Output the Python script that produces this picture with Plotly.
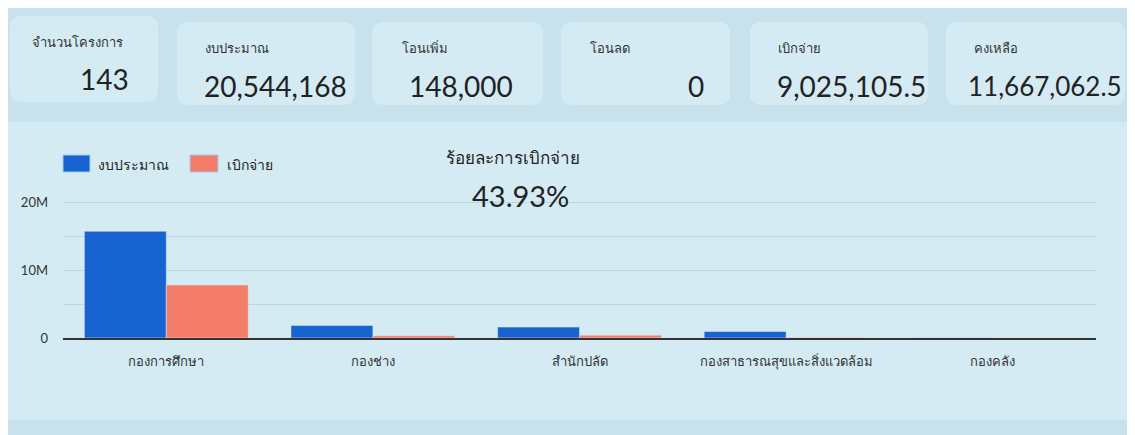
import plotly.graph_objects as go

OFF = 8  # browser body margin
W, H = 1135 - OFF, 435 - OFF
# plot area in reference pixel coordinates
PL, PR, PT, PB = 63, 1096, 196, 338
ML, MR, MT, MB = PL - OFF, W - (PR - OFF), PT - OFF, H - (PB - OFF)

categories = ["กองการศึกษา", "กองช่าง", "สำนักปลัด", "กองสาธารณสุขและสิ่งแวดล้อม", "กองคลัง"]
budget = [15700000, 1850000, 1600000, 950000, 40000]
spent = [7800000, 330000, 420000, 60000, 20000]

kpi_labels = ["จำนวนโครงการ", "งบประมาณ", "โอนเพิ่ม", "โอนลด", "เบิกจ่าย", "คงเหลือ"]
kpi_values = ["143", "20,544,168", "148,000", "0", "9,025,105.5", "11,667,062.5"]

series_names = ["งบประมาณ", "เบิกจ่าย"]
pct_title = "ร้อยละการเบิกจ่าย"
pct_value = "43.93%"
ytick_vals = [0, 5e6, 10e6, 15e6, 20e6]
ytick_text = ["0", "", "10M", "", "20M"]

BLUE = "#1763d1"
ORANGE = "#f47d69"
BG = "#c7e2ec"
CARD = "#d4ebf4"
FONT = "Lato, 'Noto Sans', sans-serif"

PW, PH = W - ML - MR, H - MT - MB


def px(x):
    return (x - OFF - ML) / PW


def py(y):
    return 1 - (y - OFF - MT) / PH


def rrect(x0, y0, x1, y1, r):
    pts = [
        f"M {px(x0 + r)},{py(y0)}",
        f"L {px(x1 - r)},{py(y0)}",
        f"Q {px(x1)},{py(y0)} {px(x1)},{py(y0 + r)}",
        f"L {px(x1)},{py(y1 - r)}",
        f"Q {px(x1)},{py(y1)} {px(x1 - r)},{py(y1)}",
        f"L {px(x0 + r)},{py(y1)}",
        f"Q {px(x0)},{py(y1)} {px(x0)},{py(y1 - r)}",
        f"L {px(x0)},{py(y0 + r)}",
        f"Q {px(x0)},{py(y0)} {px(x0 + r)},{py(y0)}",
        "Z",
    ]
    return " ".join(pts)


fig = go.Figure()
fig.add_trace(go.Bar(x=categories, y=budget, name=series_names[0], marker_color=BLUE, showlegend=False))
fig.add_trace(go.Bar(x=categories, y=spent, name=series_names[1], marker_color=ORANGE, showlegend=False))

shapes = []
annotations = []

# chart panel
shapes.append(dict(type="rect", xref="paper", yref="paper", x0=px(8), x1=px(1128), y0=py(122), y1=py(420),
                   fillcolor=CARD, line_width=0, layer="below"))

cards = [(10, 16, 158, 102), (177, 22, 355, 105), (372, 22, 543, 105),
         (561, 22, 730, 105), (750, 22, 928, 105), (946, 22, 1125, 105)]
label_x = [30, 203, 400, 588, 776, 972]
value_anchor = [("right", 131), ("left", 202), ("left", 407), ("right", 706), ("left", 775), ("right", 1124)]
value_size = [28, 28, 28, 28, 28, 26]

for i, (x0, y0, x1, y1) in enumerate(cards):
    shapes.append(dict(type="path", xref="paper", yref="paper", path=rrect(x0, y0, x1, y1, 12),
                       fillcolor=CARD, line_width=0, layer="below"))
    ly = 42 if i == 0 else 48
    vy = 79 if i == 0 else 86
    annotations.append(dict(xref="paper", yref="paper", x=px(label_x[i]), y=py(ly), text=kpi_labels[i],
                            showarrow=False, xanchor="left", yanchor="middle",
                            font=dict(family=FONT, size=13, color="#333333")))
    anc, vx = value_anchor[i]
    annotations.append(dict(xref="paper", yref="paper", x=px(vx), y=py(vy), text=kpi_values[i],
                            showarrow=False, xanchor=anc, yanchor="middle",
                            font=dict(family=FONT, size=value_size[i], color="#222222", weight=400)))

# custom legend
for (x0, x1, tx, name, col) in [(63, 90, 96, series_names[0], BLUE), (190, 218, 225, series_names[1], ORANGE)]:
    shapes.append(dict(type="rect", xref="paper", yref="paper", x0=px(x0), x1=px(x1), y0=py(155), y1=py(172),
                       fillcolor=col, line=dict(color="#9fd0ee", width=1)))
    annotations.append(dict(xref="paper", yref="paper", x=px(tx), y=py(164), text=name, showarrow=False,
                            xanchor="left", yanchor="middle", font=dict(family=FONT, size=14, color="#222222")))

annotations.append(dict(xref="paper", yref="paper", x=px(513), y=py(157), text=pct_title, showarrow=False,
                        xanchor="center", yanchor="middle", font=dict(family=FONT, size=17, color="#222222")))
annotations.append(dict(xref="paper", yref="paper", x=px(520), y=py(195), text=pct_value, showarrow=False,
                        xanchor="center", yanchor="middle", font=dict(family=FONT, size=29, color="#222222", weight=400)))

fig.update_layout(
    width=W, height=H,
    margin=dict(l=ML, r=MR, t=MT, b=MB, pad=0),
    paper_bgcolor=BG, plot_bgcolor="rgba(0,0,0,0)",
    barmode="group", bargap=0.207, bargroupgap=0,
    shapes=shapes, annotations=annotations,
    font=dict(family=FONT, color="#333333"),
    showlegend=False,
)
fig.update_yaxes(range=[0, 20e6 * (PB - PT) / (PB - 202)], tickvals=ytick_vals, ticktext=ytick_text,
                 showgrid=True, gridcolor="#b9d6e1", gridwidth=1, zeroline=False,
                 tickfont=dict(size=13, color="#333333"), ticks="", ticklabelstandoff=14)
fig.update_xaxes(showline=True, linecolor="#333333", linewidth=2, tickfont=dict(size=13, color="#333333"),
                 ticks="", ticklabelstandoff=10)

fig.write_html("out.html")
